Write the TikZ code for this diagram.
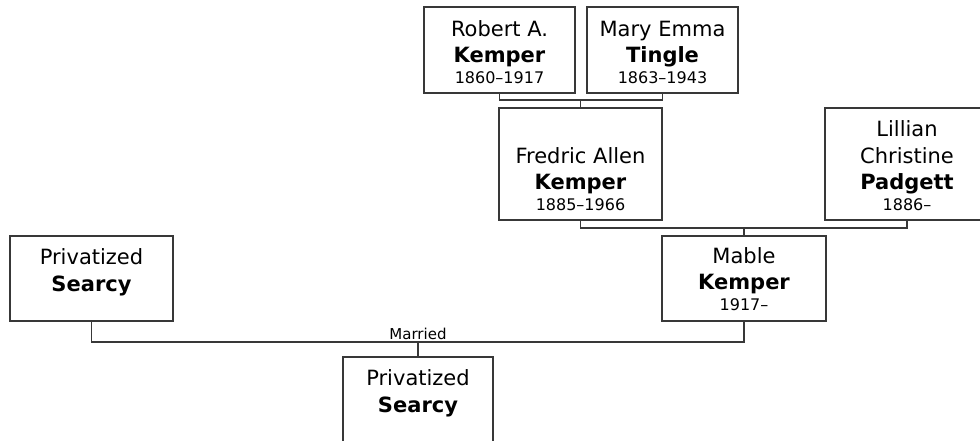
\documentclass[tikz,border=0pt]{standalone}
\usepackage{fontspec}
\setmainfont{DejaVu Sans}
\newcommand{\yrs}[1]{{\fontsize{16}{16}\selectfont #1}}
\begin{document}
\begin{tikzpicture}[x=1pt,y=-1pt,line cap=rect,line join=miter,
  pbox/.style={draw=black!78,line width=1.6pt,fill=white,inner sep=0pt},
  ptext/.style={anchor=south,align=center,inner sep=0pt,font=\fontsize{21}{26.5}\selectfont},
  link/.style={draw=black!78,line width=1.6pt}]
  \useasboundingbox (0,0) rectangle (980,441);
  % grandparents
  \node[pbox,minimum width=151pt,minimum height=86pt] (robert) at (499.5,50) {};
  \node[ptext] (robert-t) at ([yshift=10pt]robert.south) {Robert A.\\\textbf{Kemper}\\[-6pt]\yrs{1860--1917}};
  \node[pbox,minimum width=151pt,minimum height=86pt] (mary) at (662.5,50) {};
  \node[ptext] (mary-t) at ([yshift=10pt]mary.south) {Mary Emma\\\textbf{Tingle}\\[-6pt]\yrs{1863--1943}};
  % parents of mable
  \node[pbox,minimum width=163pt,minimum height=112pt] (fredric) at (580.5,164) {};
  \node[ptext] (fredric-t) at ([yshift=10pt]fredric.south) {Fredric Allen\\\textbf{Kemper}\\[-6pt]\yrs{1885--1966}};
  \node[pbox,minimum width=164pt,minimum height=112pt] (lillian) at (907,164) {};
  \node[ptext] (lillian-t) at ([yshift=10pt]lillian.south) {Lillian\\Christine\\\textbf{Padgett}\\[-6pt]\yrs{1886--}};
  % couple
  \node[pbox,minimum width=163pt,minimum height=85pt] (searcy) at (91.5,278.5) {};
  \node[ptext] (searcy-t) at ([yshift=10pt]searcy.south) {Privatized\\\textbf{Searcy}\\[-6pt]\yrs{}};
  \node[pbox,minimum width=164pt,minimum height=85pt] (mable) at (744,278.5) {};
  \node[ptext] (mable-t) at ([yshift=11pt]mable.south) {Mable\\\textbf{Kemper}\\[-6pt]\yrs{1917--}};
  % child
  \node[pbox,minimum width=150pt,minimum height=85pt] (child) at (418,399.5) {};
  \node[ptext] (child-t) at ([yshift=10pt]child.south) {Privatized\\\textbf{Searcy}\\[-6pt]\yrs{}};
  % family lines
  \coordinate (f1) at (580.5,100);
  \coordinate (f2) at (744,228);
  \coordinate (f3) at (418,342);
  \draw[link] (robert.south) |- (f1) -| (mary.south);
  \draw[link] (f1) -- (fredric.north);
  \draw[link] (fredric.south) |- (f2) -| (lillian.south);
  \draw[link] (f2) -- (mable.north);
  \draw[link] (searcy.south) |- (f3) -| (mable.south);
  \draw[link] (f3) -- (child.north);
  \node[anchor=south,inner sep=2pt,font=\fontsize{15}{15}\selectfont] (married) at (f3) {Married};
\end{tikzpicture}
\end{document}
